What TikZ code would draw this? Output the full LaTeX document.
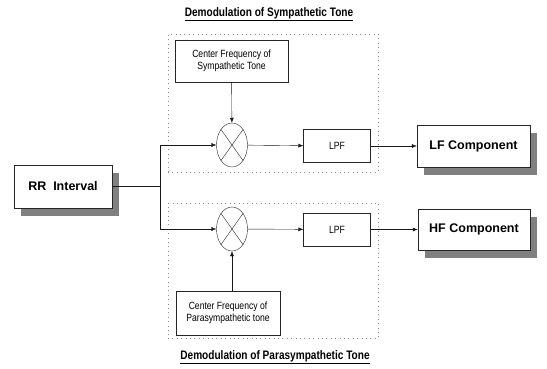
\documentclass[tikz,border=0pt]{standalone}
\usepackage{fontspec}
\setmainfont{Liberation Sans}
\newfontfamily\narrowsf[FakeStretch=0.82]{Liberation Sans}
\usepackage{tikz}
\usetikzlibrary{arrows.meta, positioning, shapes, shadows}
\tikzset{
  blk/.style={draw=black!85,thin,fill=white,inner sep=1pt,align=center,font=\narrowsf\fontsize{10.5}{12}\selectfont},
  outblk/.style={blk,font=\fontsize{12.5}{14}\selectfont\bfseries,
    drop shadow={shadow xshift=7pt,shadow yshift=-8pt,fill=black!50,opacity=1}},
  mixnode/.style={ellipse,draw=black!85,thin,minimum width=31pt,minimum height=44pt,inner sep=0pt},
  dotbox/.style={draw=black!45,loosely dotted,thin,inner sep=0pt},
  ttl/.style={font=\narrowsf\fontsize{12.3}{14}\selectfont\bfseries},
  sig/.style={-{Latex[length=5pt,width=4pt]},thin,black!90},
}

\begin{document}
\begin{tikzpicture}[x=1pt,y=-1pt]
  \useasboundingbox (0,0) rectangle (547,369);
  \node[dotbox,minimum width=210pt,minimum height=138pt] (nUpArea) at (273,103) {};
  \node[dotbox,minimum width=210pt,minimum height=135pt] (nLoArea) at (273,270.5) {};
  \node[ttl] (nTtlS) at (269,14) {\underline{Demodulation of Sympathetic Tone}};
  \node[ttl] (nTtlP) at (275,357) {\underline{Demodulation of Parasympathetic Tone}};
  \node[outblk,minimum width=98pt,minimum height=43pt] (nRR) at (63,186.5) {RR\ \ Interval};
  \node[blk,minimum width=113pt,minimum height=42pt] (nCFS) at (231.5,61) {Center Frequency of\\Sympathetic Tone};
  \node[blk,minimum width=104pt,minimum height=44pt] (nCFP) at (228,313) {Center Frequency of\\Parasympathetic tone};
  \node[mixnode] (nMixS) at (232,145) {};
  \node[mixnode] (nMixP) at (232,229) {};
  \node[blk,minimum width=67pt,minimum height=33pt] (nLpfS) at (337,146) {LPF};
  \node[blk,minimum width=67pt,minimum height=33pt] (nLpfP) at (337,229.5) {LPF};
  \node[outblk,minimum width=113pt,minimum height=42pt] (nLF) at (473.5,146) {LF Component};
  \node[outblk,minimum width=112pt,minimum height=41pt] (nHF) at (474,229.5) {HF Component};
  \coordinate (nBr) at (160,186.5);
  % crosses in the mixers
  \foreach \m in {nMixS,nMixP} {
    \draw[thin,black!85] (\m.north west) -- (\m.south east);
    \draw[thin,black!85] (\m.north east) -- (\m.south west);
  }
  \draw[thin,black!90] (nRR) -- (nBr);
  \draw[sig] (nBr) |- (nMixS);
  \draw[sig] (nBr) |- (nMixP);
  \draw[sig] (nCFS) -- (nMixS);
  \draw[sig] (nCFP.north -| nMixP) -- (nMixP);
  \draw[sig] (nMixS) -- (nLpfS);
  \draw[sig] (nMixP) -- (nLpfP);
  \draw[sig] (nLpfS) -- (nLF);
  \draw[sig] (nLpfP) -- (nHF);
\end{tikzpicture}
\end{document}
